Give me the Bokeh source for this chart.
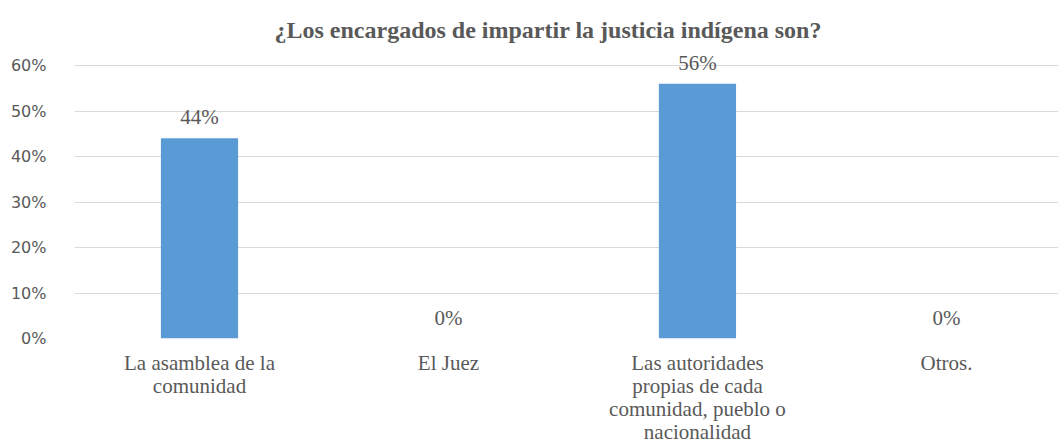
from bokeh.plotting import figure
from bokeh.models import ColumnDataSource, FixedTicker, Range1d, Title
from bokeh.embed import file_html
from bokeh.resources import INLINE
from bokeh.core.properties import value

# ---- data ----
title_text = "¿Los encargados de impartir la justicia indígena son?"
categories = [
    "La asamblea de la\ncomunidad",
    "El Juez",
    "Las autoridades\npropias de cada\ncomunidad, pueblo o\nnacionalidad",
    "Otros.",
]
values = [0.44, 0.0, 0.56, 0.0]
value_labels = ["44%", "0%", "56%", "0%"]
y_ticks = [0.0, 0.1, 0.2, 0.3, 0.4, 0.5, 0.6]
y_tick_labels = ["0%", "10%", "20%", "30%", "40%", "50%", "60%"]

xs = list(range(len(categories)))
src = ColumnDataSource(dict(x=xs, top=values, label=value_labels))

p = figure(
    width=1058, height=446,
    output_backend="svg", toolbar_location=None,
    x_range=Range1d(-0.502, 3.450), y_range=Range1d(0, 0.644),
    min_border_left=74, min_border_right=0,
    min_border_top=45, min_border_bottom=108,
)
p.outline_line_color = None
p.background_fill_color = "white"
p.border_fill_color = "white"

# title
p.title = Title(text=title_text, align="left", offset=200, standoff=6,
                text_font="Liberation Serif", text_font_style="bold",
                text_font_size="24px", text_color="#595959")

# y axis
p.yaxis.ticker = FixedTicker(ticks=y_ticks)
p.yaxis.major_label_overrides = {t: l for t, l in zip(y_ticks, y_tick_labels)}
p.yaxis.axis_line_color = None
p.yaxis.major_tick_line_color = None
p.yaxis.minor_tick_line_color = None
p.yaxis.major_label_standoff = 22
p.yaxis.major_label_text_font = "DejaVu Sans"
p.yaxis.major_label_text_font_size = "16px"
p.yaxis.major_label_text_color = "#595959"

# x axis
p.xaxis.ticker = FixedTicker(ticks=xs)
p.xaxis.major_label_overrides = {x: c for x, c in zip(xs, categories)}
p.xaxis.axis_line_color = None
p.xaxis.major_tick_line_color = None
p.xaxis.minor_tick_line_color = None
p.xaxis.major_label_standoff = 6
p.xaxis.major_label_text_font = "Liberation Serif"
p.xaxis.major_label_text_font_size = "21px"
p.xaxis.major_label_text_line_height = 0.96
p.xaxis.major_label_text_color = "#595959"

# grid
p.xgrid.visible = False
p.ygrid.grid_line_color = "#D9D9D9"
p.ygrid.grid_line_width = 1

# bars
p.vbar(x="x", top="top", width=0.31, source=src,
       fill_color="#5B9BD5", line_color=None)

# data labels
p.text(x="x", y="top", text="label", source=src,
       text_align="center", text_baseline="alphabetic", y_offset=-21,
       text_font=value("Liberation Serif"), text_font_size="21px",
       text_color="#595959")

open("out.html", "w").write(file_html(p, INLINE))
